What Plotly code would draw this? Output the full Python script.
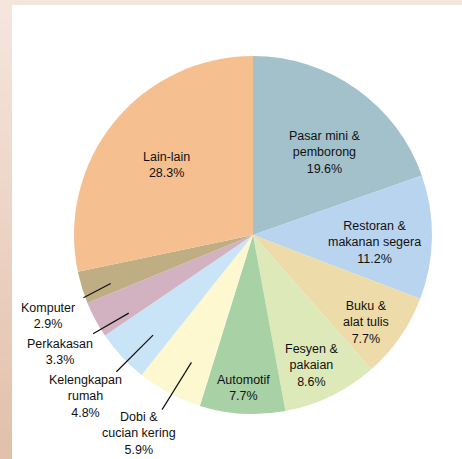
import math
import plotly.graph_objects as go

# ---- data ----
categories = ["Pasar mini &<br>pemborong", "Restoran &<br>makanan segera", "Buku &<br>alat tulis",
              "Fesyen &<br>pakaian", "Automotif", "Dobi &<br>cucian kering", "Kelengkapan<br>rumah",
              "Perkakasan", "Komputer", "Lain-lain"]
shares = [19.6, 11.2, 7.7, 8.6, 7.7, 5.9, 4.8, 3.3, 2.9, 28.3]
colors = ["#a2c1cb", "#b9d4ee", "#eddba9", "#dde9b9", "#a9d1a6", "#fdf8d0",
          "#c9e4f6", "#d2b1c1", "#bfad84", "#f6bf90"]
outside = [False, False, False, False, False, True, True, True, True, False]

# ---- style / geometry ----
W, H = 462, 459
CX, CY, R = 253, 235, 179
label_r = [0.61, 0.68, 0.80, 0.80, 0.855, 1.28, 1.30, 1.26, 1.23, 0.62]
label_da = [6, 3, 3, 2, 0, 2, -1, -3, -4.5, 0]
# leader lines: (inner radius, inner angle offset, outer radius, outer angle offset)
leader = {5: (0.79, -2.1, 1.10, -0.4), 6: (0.79, -2.2, 1.08, -2.2),
          7: (0.82, -3.9, 1.05, -3.4), 8: (0.84, -1.7, 1.01, -3.2)}
FONT = "Liberation Sans, Arial, sans-serif"

def px_to_paper(x, y):
    return x / W, 1 - y / H

def polar(angle_deg, rad):
    a = math.radians(angle_deg)
    return CX + rad * math.sin(a), CY - rad * math.cos(a)

fig = go.Figure(go.Pie(
    labels=[c.replace("<br>", " ") for c in categories],
    values=shares,
    sort=False,
    direction="clockwise",
    rotation=0,
    marker=dict(colors=colors, line=dict(width=0)),
    textinfo="none",
    hoverinfo="skip",
    showlegend=False,
    domain=dict(x=[(CX - R) / W, (CX + R) / W], y=[(H - CY - R) / H, (H - CY + R) / H]),
))

total = sum(shares)
annotations, shapes = [], []

# background frame: paper is the frame colour, white panel drawn over it
shapes.append(dict(type="rect", xref="paper", yref="paper", x0=12 / W, x1=1, y0=0, y1=1 - 5 / H,
                   fillcolor="white", line=dict(width=0), layer="below"))
n = 46
c0, c1 = (245, 230, 221), (226, 192, 171)
for i in range(n):
    t = i / (n - 1)
    col = "rgb(%d,%d,%d)" % tuple(round(c0[k] + (c1[k] - c0[k]) * t) for k in range(3))
    y0, y1 = i * H / n, (i + 1) * H / n + 0.5
    shapes.append(dict(type="rect", xref="paper", yref="paper", x0=0, x1=12 / W,
                       y0=1 - y1 / H, y1=1 - y0 / H, fillcolor=col, line=dict(width=0), layer="below"))

cum = 0
for i, (cat, v) in enumerate(zip(categories, shares)):
    mid = (cum + v / 2) / total * 360
    cum += v
    lx, ly = polar(mid + label_da[i], R * label_r[i])
    px, py = px_to_paper(lx, ly)
    annotations.append(dict(x=px, y=py, xref="paper", yref="paper", showarrow=False,
                            text=f"{cat}<br>{v:.1f}%", align="center",
                            xanchor="center", yanchor="middle",
                            font=dict(family=FONT, size=12.5, color="#111111")))
    if outside[i]:
        ri, ai, ro, ao = leader[i]
        x0, y0 = polar(mid + ai, R * ri)
        x1, y1 = polar(mid + ao, R * ro)
        a0, b0 = px_to_paper(x0, y0)
        a1, b1 = px_to_paper(x1, y1)
        shapes.append(dict(type="line", xref="paper", yref="paper", x0=a0, y0=b0, x1=a1, y1=b1,
                           line=dict(color="#111111", width=1.2)))

fig.update_layout(width=W, height=H, margin=dict(l=0, r=0, t=0, b=0),
                  paper_bgcolor="#f5e6dd", plot_bgcolor="white",
                  annotations=annotations, shapes=shapes)
fig.write_html("out.html", config={"displayModeBar": False},
               post_script="document.body.style.margin='0';document.body.style.overflow='hidden';")
